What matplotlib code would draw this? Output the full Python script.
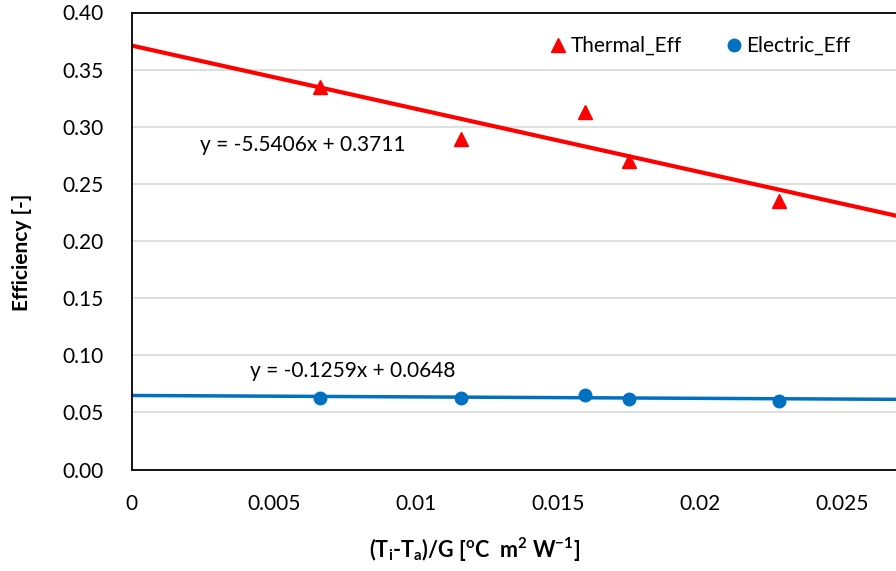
import matplotlib
matplotlib.use("Agg")
import matplotlib.pyplot as plt
import numpy as np

# Data
x_vals = [0.00663, 0.01158, 0.01595, 0.0175, 0.02277]
thermal_eff = [0.335, 0.289, 0.313, 0.270, 0.235]
electric_eff = [0.0630, 0.0622, 0.0655, 0.0615, 0.0603]
thermal_fit = [-5.5406, 0.3711]
electric_fit = [-0.1259, 0.0648]
x_ticks = [0, 0.005, 0.01, 0.015, 0.02, 0.025]
x_ticklabels = ['0', '0.005', '0.01', '0.015', '0.02', '0.025']
y_ticks = [0.0, 0.05, 0.10, 0.15, 0.20, 0.25, 0.30, 0.35, 0.40]

RED = '#FF0000'
BLUE = '#0070C0'
FONT = 'Lato'

plt.rcParams['font.family'] = [FONT, 'DejaVu Sans']
plt.rcParams['mathtext.fontset'] = 'custom'
plt.rcParams['mathtext.rm'] = FONT
plt.rcParams['mathtext.bf'] = FONT + ':bold'

W, H = 896, 571
fig = plt.figure(figsize=(W / 100, H / 100), dpi=100)

left_px, right_px_at_03 = 131.5, 131.5 + 6 * 142.2
top_px, bot_px = 12.5, 469.5
ax = fig.add_axes([left_px / W, 1 - bot_px / H,
                   (right_px_at_03 - left_px) / W, (bot_px - top_px) / H])

ax.set_xlim(0, 0.03)
ax.set_ylim(0, 0.40)
ax.set_yticks(y_ticks)
ax.set_yticklabels([f'{v:.2f}' for v in y_ticks])
ax.set_xticks(x_ticks)
ax.set_xticklabels(x_ticklabels)
ax.tick_params(axis='both', length=0, labelsize=15, colors='black')
ax.tick_params(axis='y', pad=20)
ax.tick_params(axis='x', pad=18)
ax.grid(axis='y', color='#D9D9D9', linewidth=1.2)
ax.set_axisbelow(True)
for s in ['left', 'bottom', 'top', 'right']:
    ax.spines[s].set_color('black')
    ax.spines[s].set_linewidth(1.3)

xx = np.array([0, 0.03])
ax.plot(xx, np.polyval(thermal_fit, xx), color=RED, lw=3, zorder=2)
ax.plot(xx, np.polyval(electric_fit, xx), color=BLUE, lw=2.5, zorder=2)
ax.plot(x_vals, thermal_eff, linestyle='none', marker='^', ms=9.5,
        color=RED, label='Thermal_Eff', zorder=3)
ax.plot(x_vals, electric_eff, linestyle='none', marker='o', ms=9,
        color=BLUE, label='Electric_Eff', zorder=3)

leg = ax.legend(loc='center', bbox_to_anchor=(701 / W, 1 - 46 / H),
                bbox_transform=fig.transFigure, ncol=2, frameon=False,
                fontsize=15, handlelength=0.6, handletextpad=0.3,
                columnspacing=2.2, borderpad=0)

fig.text(200 / W, 1 - 145 / H,
         f'y = {thermal_fit[0]:.4f}x + {thermal_fit[1]:.4f}',
         fontsize=15, ha='left', va='center')
fig.text(250 / W, 1 - 371 / H,
         f'y = {electric_fit[0]:.4f}x + {electric_fit[1]:.4f}',
         fontsize=15, ha='left', va='center')

fig.text(22 / W, 1 - 252 / H, 'Efficiency [-]', rotation=90,
         fontsize=15, fontweight='bold', ha='center', va='center')
fig.text(475 / W, 1 - 550 / H,
         r'(T$_\mathbf{i}$-T$_\mathbf{a}$)/G [$^\mathbf{o}$C  m$^\mathbf{2}$ W$^\mathbf{-1}$]',
         fontsize=15.5, fontweight='bold', ha='center', va='center')

fig.savefig('out.png', dpi=100)
